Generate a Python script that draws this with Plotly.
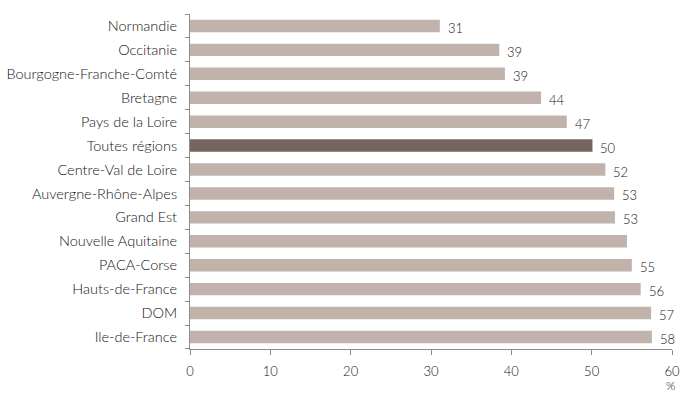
import plotly.graph_objects as go

regions = [
    "Normandie", "Occitanie", "Bourgogne-Franche-Comté", "Bretagne",
    "Pays de la Loire", "Toutes régions", "Centre-Val de Loire",
    "Auvergne-Rhône-Alpes", "Grand Est", "Nouvelle Aquitaine",
    "PACA-Corse", "Hauts-de-France", "DOM", "Ile-de-France",
]
values = [31.1, 38.5, 39.2, 43.7, 46.9, 50.1, 51.7, 52.8, 52.9, 54.4, 55.0, 56.1, 57.4, 57.5]
value_labels = ["31", "39", "39", "44", "47", "50", "52", "53", "53", "", "55", "56", "57", "58"]
highlight = "Toutes régions"

light = "#c1b2ac"
dark = "#75655e"
colors = [dark if r == highlight else light for r in regions]

FONT = "Lato"
TXT = "#141414"

fig = go.Figure(
    go.Bar(
        x=values,
        y=regions,
        orientation="h",
        marker=dict(color=colors, line=dict(width=0)),
        hoverinfo="skip",
    )
)

annotations = []
for r, v, lab in zip(regions, values, value_labels):
    if lab:
        annotations.append(dict(
            x=v, y=r, text=lab, showarrow=False, xanchor="left", yanchor="middle",
            xshift=6, yshift=-2,
            font=dict(family=FONT, size=13, color=TXT, weight=300),
        ))
# unit label under the last x tick
annotations.append(dict(
    x=60, y=0, xref="x", yref="paper", text="%", showarrow=False,
    xanchor="center", yanchor="bottom", yshift=-46, xshift=-2,
    font=dict(family=FONT, size=12, color=TXT, weight=300),
))

fig.update_layout(
    width=681, height=396,
    margin=dict(l=190, r=9, t=14, b=47, autoexpand=False),
    paper_bgcolor="white", plot_bgcolor="white",
    bargap=0.48,
    showlegend=False,
    annotations=annotations,
    xaxis=dict(
        range=[0, 60], dtick=10, tick0=0,
        showgrid=False, zeroline=False,
        showline=True, linecolor="#8c8c8c", linewidth=1,
        ticks="outside", ticklen=5, tickcolor="#8c8c8c",
        tickfont=dict(family=FONT, size=13, color=TXT, weight=300),
        ticklabelstandoff=5,
        automargin=False,
        fixedrange=True,
    ),
    yaxis=dict(
        categoryorder="array", categoryarray=regions[::-1],
        autorange=True,
        showgrid=False, zeroline=False,
        showline=True, linecolor="#8c8c8c", linewidth=1,
        ticks="outside", ticklen=4, tickcolor="#8c8c8c",
        tickson="boundaries",
        tickfont=dict(family=FONT, size=14.5, color=TXT, weight=300),
        ticklabelstandoff=9,
        automargin=False,
        fixedrange=True,
    ),
)

fig.write_html("out.html")
